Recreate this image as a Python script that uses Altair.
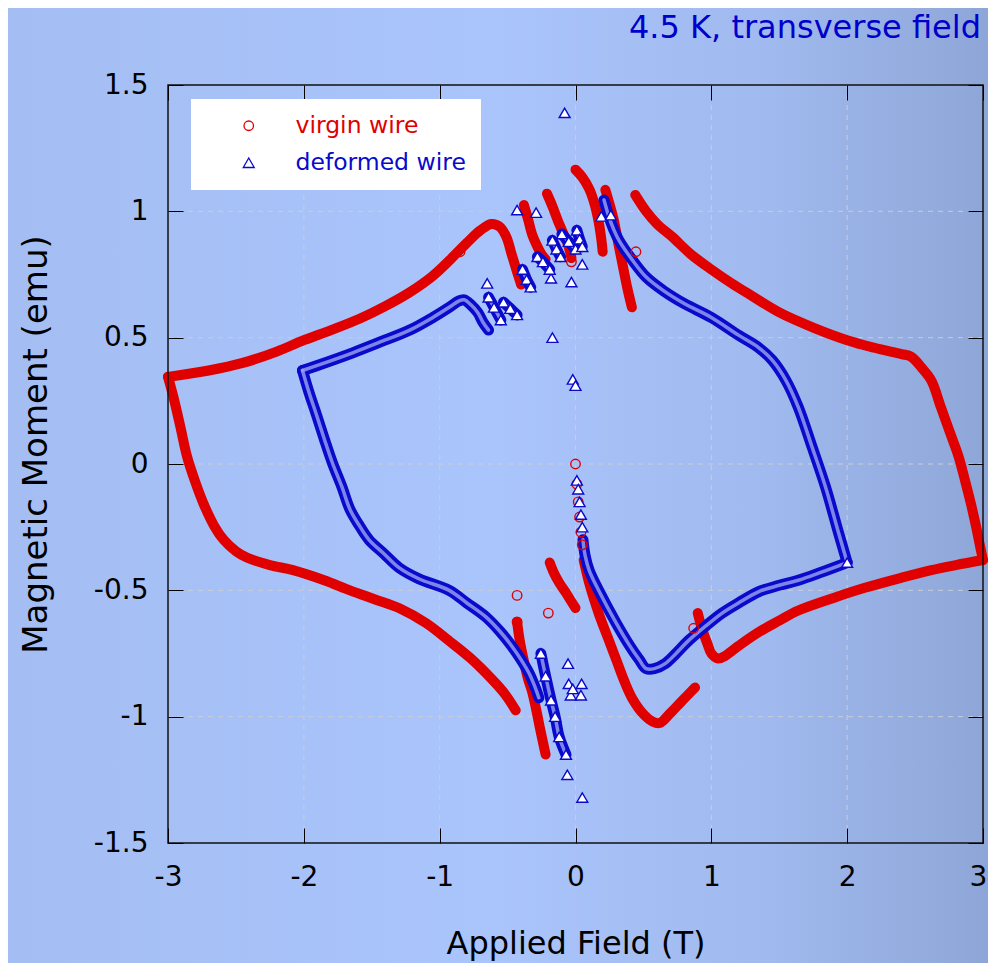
import altair as alt
import pandas as pd

FONT = "DejaVu Sans"
RED = "#e00000"
BLUE = "#0a0acc"
SERIES = ["virgin wire", "deformed wire"]
X_TICKS = [-3, -2, -1, 0, 1, 2, 3]
Y_TICKS = [-1.5, -1, -0.5, 0, 0.5, 1, 1.5]
X_GRID = [-2, -1, 0, 1, 2]
Y_GRID = [-1, -0.5, 0, 0.5, 1]
TITLE = "4.5 K, transverse field"
X_TITLE = "Applied Field (T)"
Y_TITLE = "Magnetic Moment (emu)"

# ---- virgin wire (field in T, moment in emu) ----
v_left_top = [(-3.00, 0.345), (-2.70, 0.37), (-2.45, 0.40), (-2.20, 0.445), (-2.00, 0.49),
              (-1.80, 0.53), (-1.59, 0.575), (-1.40, 0.625), (-1.22, 0.68), (-1.05, 0.745),
              (-0.92, 0.81), (-0.80, 0.875), (-0.70, 0.925), (-0.62, 0.95), (-0.56, 0.94),
              (-0.51, 0.90), (-0.47, 0.83), (-0.43, 0.76), (-0.40, 0.71)]
v_jump1 = [(-0.38, 1.025), (-0.35, 0.97), (-0.32, 0.91), (-0.28, 0.86), (-0.25, 0.83), (-0.22, 0.81)]
v_jump2 = [(-0.21, 1.07), (-0.17, 1.02), (-0.12, 0.95), (-0.08, 0.90), (-0.05, 0.86), (-0.03, 0.815)]
v_jump3 = [(0.00, 1.165), (0.05, 1.135), (0.10, 1.09), (0.14, 1.03), (0.17, 0.96), (0.19, 0.89), (0.20, 0.84)]
v_jump4 = [(0.22, 1.085), (0.25, 1.03), (0.28, 0.97), (0.32, 0.86), (0.35, 0.78), (0.38, 0.70), (0.415, 0.62)]
v_right_top = [(0.44, 1.065), (0.52, 1.00), (0.60, 0.95), (0.71, 0.90), (0.85, 0.83), (1.00, 0.77),
               (1.15, 0.715), (1.30, 0.665), (1.50, 0.60), (1.75, 0.54), (2.00, 0.49), (2.20, 0.46),
               (2.40, 0.435), (2.47, 0.425), (2.55, 0.38), (2.62, 0.33), (2.69, 0.225), (2.76, 0.12),
               (2.82, 0.03), (2.87, -0.07), (2.91, -0.155), (2.95, -0.25), (2.98, -0.33), (3.00, -0.38)]
v_right_bottom = [(3.00, -0.38), (2.80, -0.40), (2.62, -0.42), (2.40, -0.45), (2.13, -0.49),
                  (1.90, -0.53), (1.64, -0.58), (1.50, -0.62), (1.35, -0.665), (1.20, -0.72),
                  (1.10, -0.76), (1.05, -0.77), (1.00, -0.75), (0.97, -0.71), (0.93, -0.65), (0.90, -0.59)]
v_low_right = [(0.06, -0.38), (0.10, -0.47), (0.17, -0.59), (0.24, -0.69), (0.30, -0.775),
               (0.36, -0.86), (0.42, -0.93), (0.50, -0.99), (0.57, -1.02), (0.62, -1.025),
               (0.70, -0.985), (0.78, -0.94), (0.88, -0.885)]
v_low_mid = [(-0.19, -0.39), (-0.16, -0.43), (-0.12, -0.47), (-0.07, -0.51), (-0.03, -0.545), (0.00, -0.57)]
v_low_col = [(-0.43, -0.625), (-0.41, -0.70), (-0.38, -0.78), (-0.35, -0.85), (-0.32, -0.90),
             (-0.29, -0.97), (-0.26, -1.05), (-0.24, -1.10), (-0.22, -1.15)]
v_left_bottom = [(-3.00, 0.345), (-2.96, 0.265), (-2.91, 0.15), (-2.86, 0.03), (-2.80, -0.07),
                 (-2.74, -0.155), (-2.66, -0.245), (-2.59, -0.30), (-2.50, -0.345), (-2.42, -0.37),
                 (-2.25, -0.40), (-2.08, -0.42), (-1.85, -0.46), (-1.66, -0.50), (-1.48, -0.535),
                 (-1.30, -0.57), (-1.10, -0.63), (-0.93, -0.70), (-0.77, -0.77), (-0.61, -0.855),
                 (-0.52, -0.91), (-0.44, -0.975)]
v_isolated = [(-0.85, 0.84), (0.445, 0.84), (-0.43, -0.52), (-0.20, -0.59), (0.87, -0.65),
              (0.00, 0.00), (0.01, -0.08), (0.02, -0.15), (0.03, -0.21), (0.04, -0.27),
              (0.05, -0.32), (-0.03, 0.80), (-0.43, -0.625)]

# ---- deformed wire ----
d_left_top = [(-2.01, 0.37), (-1.90, 0.39), (-1.64, 0.44), (-1.45, 0.48), (-1.22, 0.53),
              (-1.05, 0.58), (-0.93, 0.62), (-0.86, 0.645), (-0.82, 0.65), (-0.77, 0.63),
              (-0.72, 0.60), (-0.68, 0.56), (-0.64, 0.53)]
d_right_top = [(0.21, 1.045), (0.245, 0.98), (0.28, 0.93), (0.32, 0.885), (0.415, 0.81),
               (0.52, 0.74), (0.65, 0.685), (0.80, 0.635), (1.00, 0.58), (1.20, 0.51),
               (1.35, 0.46), (1.45, 0.41), (1.55, 0.33), (1.64, 0.225), (1.74, 0.07),
               (1.84, -0.09), (1.93, -0.26), (2.00, -0.39)]
d_right_bottom = [(2.00, -0.39), (1.80, -0.43), (1.64, -0.46), (1.50, -0.48), (1.35, -0.505),
                  (1.20, -0.55), (1.08, -0.59), (0.95, -0.645), (0.83, -0.70), (0.74, -0.75),
                  (0.66, -0.79), (0.58, -0.81), (0.52, -0.81), (0.47, -0.775), (0.40, -0.72),
                  (0.30, -0.63), (0.17, -0.50), (0.10, -0.42), (0.07, -0.36), (0.055, -0.30)]
d_left_bottom = [(-2.01, 0.37), (-1.96, 0.28), (-1.91, 0.20), (-1.85, 0.10), (-1.79, 0.005),
                 (-1.72, -0.09), (-1.66, -0.18), (-1.59, -0.245), (-1.52, -0.30), (-1.41, -0.355),
                 (-1.30, -0.41), (-1.15, -0.455), (-0.93, -0.50), (-0.80, -0.55), (-0.66, -0.605),
                 (-0.56, -0.66), (-0.47, -0.72), (-0.40, -0.775), (-0.34, -0.83), (-0.30, -0.88),
                 (-0.27, -0.925)]
d_c1 = [(-0.64, 0.66), (-0.60, 0.62), (-0.55, 0.57)]
d_c2 = [(-0.53, 0.64), (-0.48, 0.615), (-0.43, 0.59)]
d_c3 = [(-0.39, 0.77), (-0.36, 0.73), (-0.33, 0.70)]
d_c4 = [(-0.28, 0.82), (-0.24, 0.80), (-0.19, 0.77)]
d_c5 = [(-0.17, 0.885), (-0.14, 0.85), (-0.11, 0.82)]
d_c6 = [(-0.10, 0.91), (-0.05, 0.88), (0.00, 0.85)]
d_c7 = [(0.01, 0.925), (0.03, 0.89), (0.05, 0.86)]
d_low_col = [(-0.255, -0.75), (-0.22, -0.84), (-0.18, -0.935), (-0.15, -1.00), (-0.12, -1.08), (-0.07, -1.15)]
d_isolated = [(-0.43, 1.005), (-0.29, 0.995), (-0.65, 0.715), (-0.18, 0.735), (-0.03, 0.72),
              (0.05, 0.79), (-0.08, 1.39), (-0.17, 0.50), (-0.02, 0.335), (0.00, 0.31),
              (0.19, 0.98), (0.26, 0.985), (-0.06, -1.23), (0.05, -1.32), (-0.055, -0.79),
              (-0.05, -0.87), (-0.035, -0.915), (-0.02, -0.89), (0.04, -0.915), (0.045, -0.87),
              (0.01, -0.065), (0.02, -0.10), (0.03, -0.15), (0.04, -0.20), (0.05, -0.25),
              (2.00, -0.39)]

v_bands = {"v_left_top": v_left_top, "v_jump1": v_jump1, "v_jump2": v_jump2, "v_jump3": v_jump3,
           "v_jump4": v_jump4, "v_right_top": v_right_top, "v_right_bottom": v_right_bottom,
           "v_low_right": v_low_right, "v_low_mid": v_low_mid, "v_low_col": v_low_col,
           "v_left_bottom": v_left_bottom}
d_bands = {"d_left_top": d_left_top, "d_right_top": d_right_top, "d_right_bottom": d_right_bottom,
           "d_left_bottom": d_left_bottom, "d_c1": d_c1, "d_c2": d_c2, "d_c3": d_c3, "d_c4": d_c4,
           "d_c5": d_c5, "d_c6": d_c6, "d_c7": d_c7, "d_low_col": d_low_col}
d_clusters = [d_c1, d_c2, d_c3, d_c4, d_c5, d_c6, d_c7, d_low_col]


def band_table(bands):
    rows = []
    for name, pts in bands.items():
        for i, (x, y) in enumerate(pts):
            rows.append({"seg": name, "order": i, "field": x, "moment": y})
    return pd.DataFrame(rows)


v_df = band_table(v_bands)
d_df = band_table(d_bands)

mk_rows = [{"series": SERIES[0], "field": x, "moment": y} for x, y in v_isolated]
mk_rows += [{"series": SERIES[1], "field": x, "moment": y} for x, y in d_isolated]
for seg in d_clusters:
    mk_rows += [{"series": SERIES[1], "field": x, "moment": y} for x, y in seg]
mk_df = pd.DataFrame(mk_rows)

XS = alt.Scale(domain=[-3, 3], nice=False, zero=False)
YS = alt.Scale(domain=[-1.5, 1.5], nice=False, zero=False)

PLOT_W, PLOT_H = 815, 758
PAD = {"left": 160, "top": 77, "right": 5, "bottom": 120}

# background gradient
bg = alt.Chart(pd.DataFrame({"a": [0]})).mark_rect(
    fill=alt.LinearGradient(
        gradient="linear",
        stops=[alt.GradientStop(color="#a4bef3", offset=0),
               alt.GradientStop(color="#aac5fc", offset=0.5),
               alt.GradientStop(color="#a0b9ee", offset=0.78),
               alt.GradientStop(color="#8ea6d7", offset=1)],
        x1=0, x2=1, y1=0, y2=0),
    strokeWidth=0,
).encode(
    x=alt.value(-PAD["left"]), x2=alt.value(PLOT_W + PAD["right"]),
    y=alt.value(-PAD["top"]), y2=alt.value(PLOT_H + PAD["bottom"]),
)

tick_common = dict(offset=-15, tickSize=15, tickColor="black", tickWidth=1, domain=False,
                   grid=False, zindex=1)

vgrid = alt.Chart(pd.DataFrame({"gx": X_GRID})).mark_rule(
    color="#c9cdd6", strokeDash=[5, 5], strokeWidth=1
).encode(x=alt.X("gx:Q", scale=XS, title=None,
                 axis=alt.Axis(values=X_TICKS, orient="top", labels=False, **tick_common)))

hgrid = alt.Chart(pd.DataFrame({"gy": Y_GRID})).mark_rule(
    color="#c9cdd6", strokeDash=[5, 5], strokeWidth=1
).encode(y=alt.Y("gy:Q", scale=YS, title=None,
                 axis=alt.Axis(values=Y_TICKS, orient="right", labels=False, **tick_common)))

line_enc = dict(x=alt.X("field:Q", scale=XS, axis=None), y=alt.Y("moment:Q", scale=YS, axis=None),
                detail="seg:N", order="order:Q")

v_lines = alt.Chart(v_df).mark_line(
    color=RED, strokeWidth=10, strokeCap="round", strokeJoin="round", interpolate="catmull-rom"
).encode(**line_enc)

d_lines = alt.Chart(d_df).mark_line(
    color=BLUE, strokeWidth=11, strokeCap="round", strokeJoin="round", interpolate="catmull-rom"
).encode(**line_enc)

d_inner = alt.Chart(d_df).mark_line(
    color="#9aa4f0", strokeWidth=3.5, strokeCap="round", strokeJoin="round", opacity=0.8,
    interpolate="catmull-rom"
).encode(**line_enc)

legend = alt.Legend(
    orient="none", legendX=23, legendY=14, title=None, fillColor="white", padding=15,
    labelFont=FONT, labelFontSize=23.5, labelLimit=400,
    labelColor=alt.ExprRef(expr="datum.label == 'virgin wire' ? '%s' : '%s'" % (RED, BLUE)),
    symbolStrokeWidth=1.3, symbolOffset=31, labelOffset=35, rowPadding=12,
    zindex=1,
)

x_axis = alt.Axis(values=X_TICKS, orient="bottom", labelFont=FONT, labelFontSize=28,
                  labelColor="black", labelPadding=20, labelFlush=False, labelOverlap=False,
                  labelOffset={"condition": {"test": "datum.value == 3", "value": -5}, "value": 0},
                  labelExpr="'' + datum.value", titleFont=FONT, titleFontSize=32,
                  titleFontWeight="normal", titleColor="black", titlePadding=37, **tick_common)
y_axis = alt.Axis(values=Y_TICKS, orient="left", labelFont=FONT, labelFontSize=28,
                  labelColor="black", labelPadding=20, labelFlush=False, labelOverlap=False,
                  labelExpr="'' + datum.value", titleFont=FONT, titleFontSize=34,
                  titleFontWeight="normal", titleColor="black", titlePadding=40, titleY=359,
                  **tick_common)

markers = alt.Chart(mk_df).mark_point(opacity=1, strokeWidth=1.4).encode(
    x=alt.X("field:Q", scale=XS, axis=x_axis, title=X_TITLE),
    y=alt.Y("moment:Q", scale=YS, axis=y_axis, title=Y_TITLE),
    stroke=alt.Stroke("series:N", scale=alt.Scale(domain=SERIES, range=[RED, BLUE]), legend=legend),
    fill=alt.Fill("series:N", scale=alt.Scale(domain=SERIES, range=["transparent", "#ffffff"]), legend=legend),
    shape=alt.Shape("series:N", scale=alt.Scale(domain=SERIES, range=["circle", "triangle-up"]), legend=legend),
    size=alt.Size("series:N", scale=alt.Scale(domain=SERIES, range=[90, 120]), legend=legend),
)

frame = alt.Chart(pd.DataFrame({"a": [0]})).mark_rect(
    fillOpacity=0, stroke="#111111", strokeWidth=1.5
).encode(
    x=alt.XDatum(-3, scale=XS, axis=None), x2=alt.X2Datum(3),
    y=alt.YDatum(-1.5, scale=YS, axis=None), y2=alt.Y2Datum(1.5),
)

chart = alt.layer(bg, vgrid, hgrid, v_lines, d_lines, d_inner, markers, frame).properties(
    width=PLOT_W, height=PLOT_H,
    autosize=alt.AutoSizeParams(type="none"),
    padding=PAD,
    background="#a5bff4",
    title=alt.TitleParams(TITLE, anchor="end", frame="group", color="#0000cc", font=FONT,
                          fontSize=32, fontWeight="normal", offset=-37, orient="top", dx=-2),
).resolve_axis(x="independent", y="independent").configure_view(stroke=None)

chart.save("out.html", embed_options={"renderer": "svg", "actions": False})
